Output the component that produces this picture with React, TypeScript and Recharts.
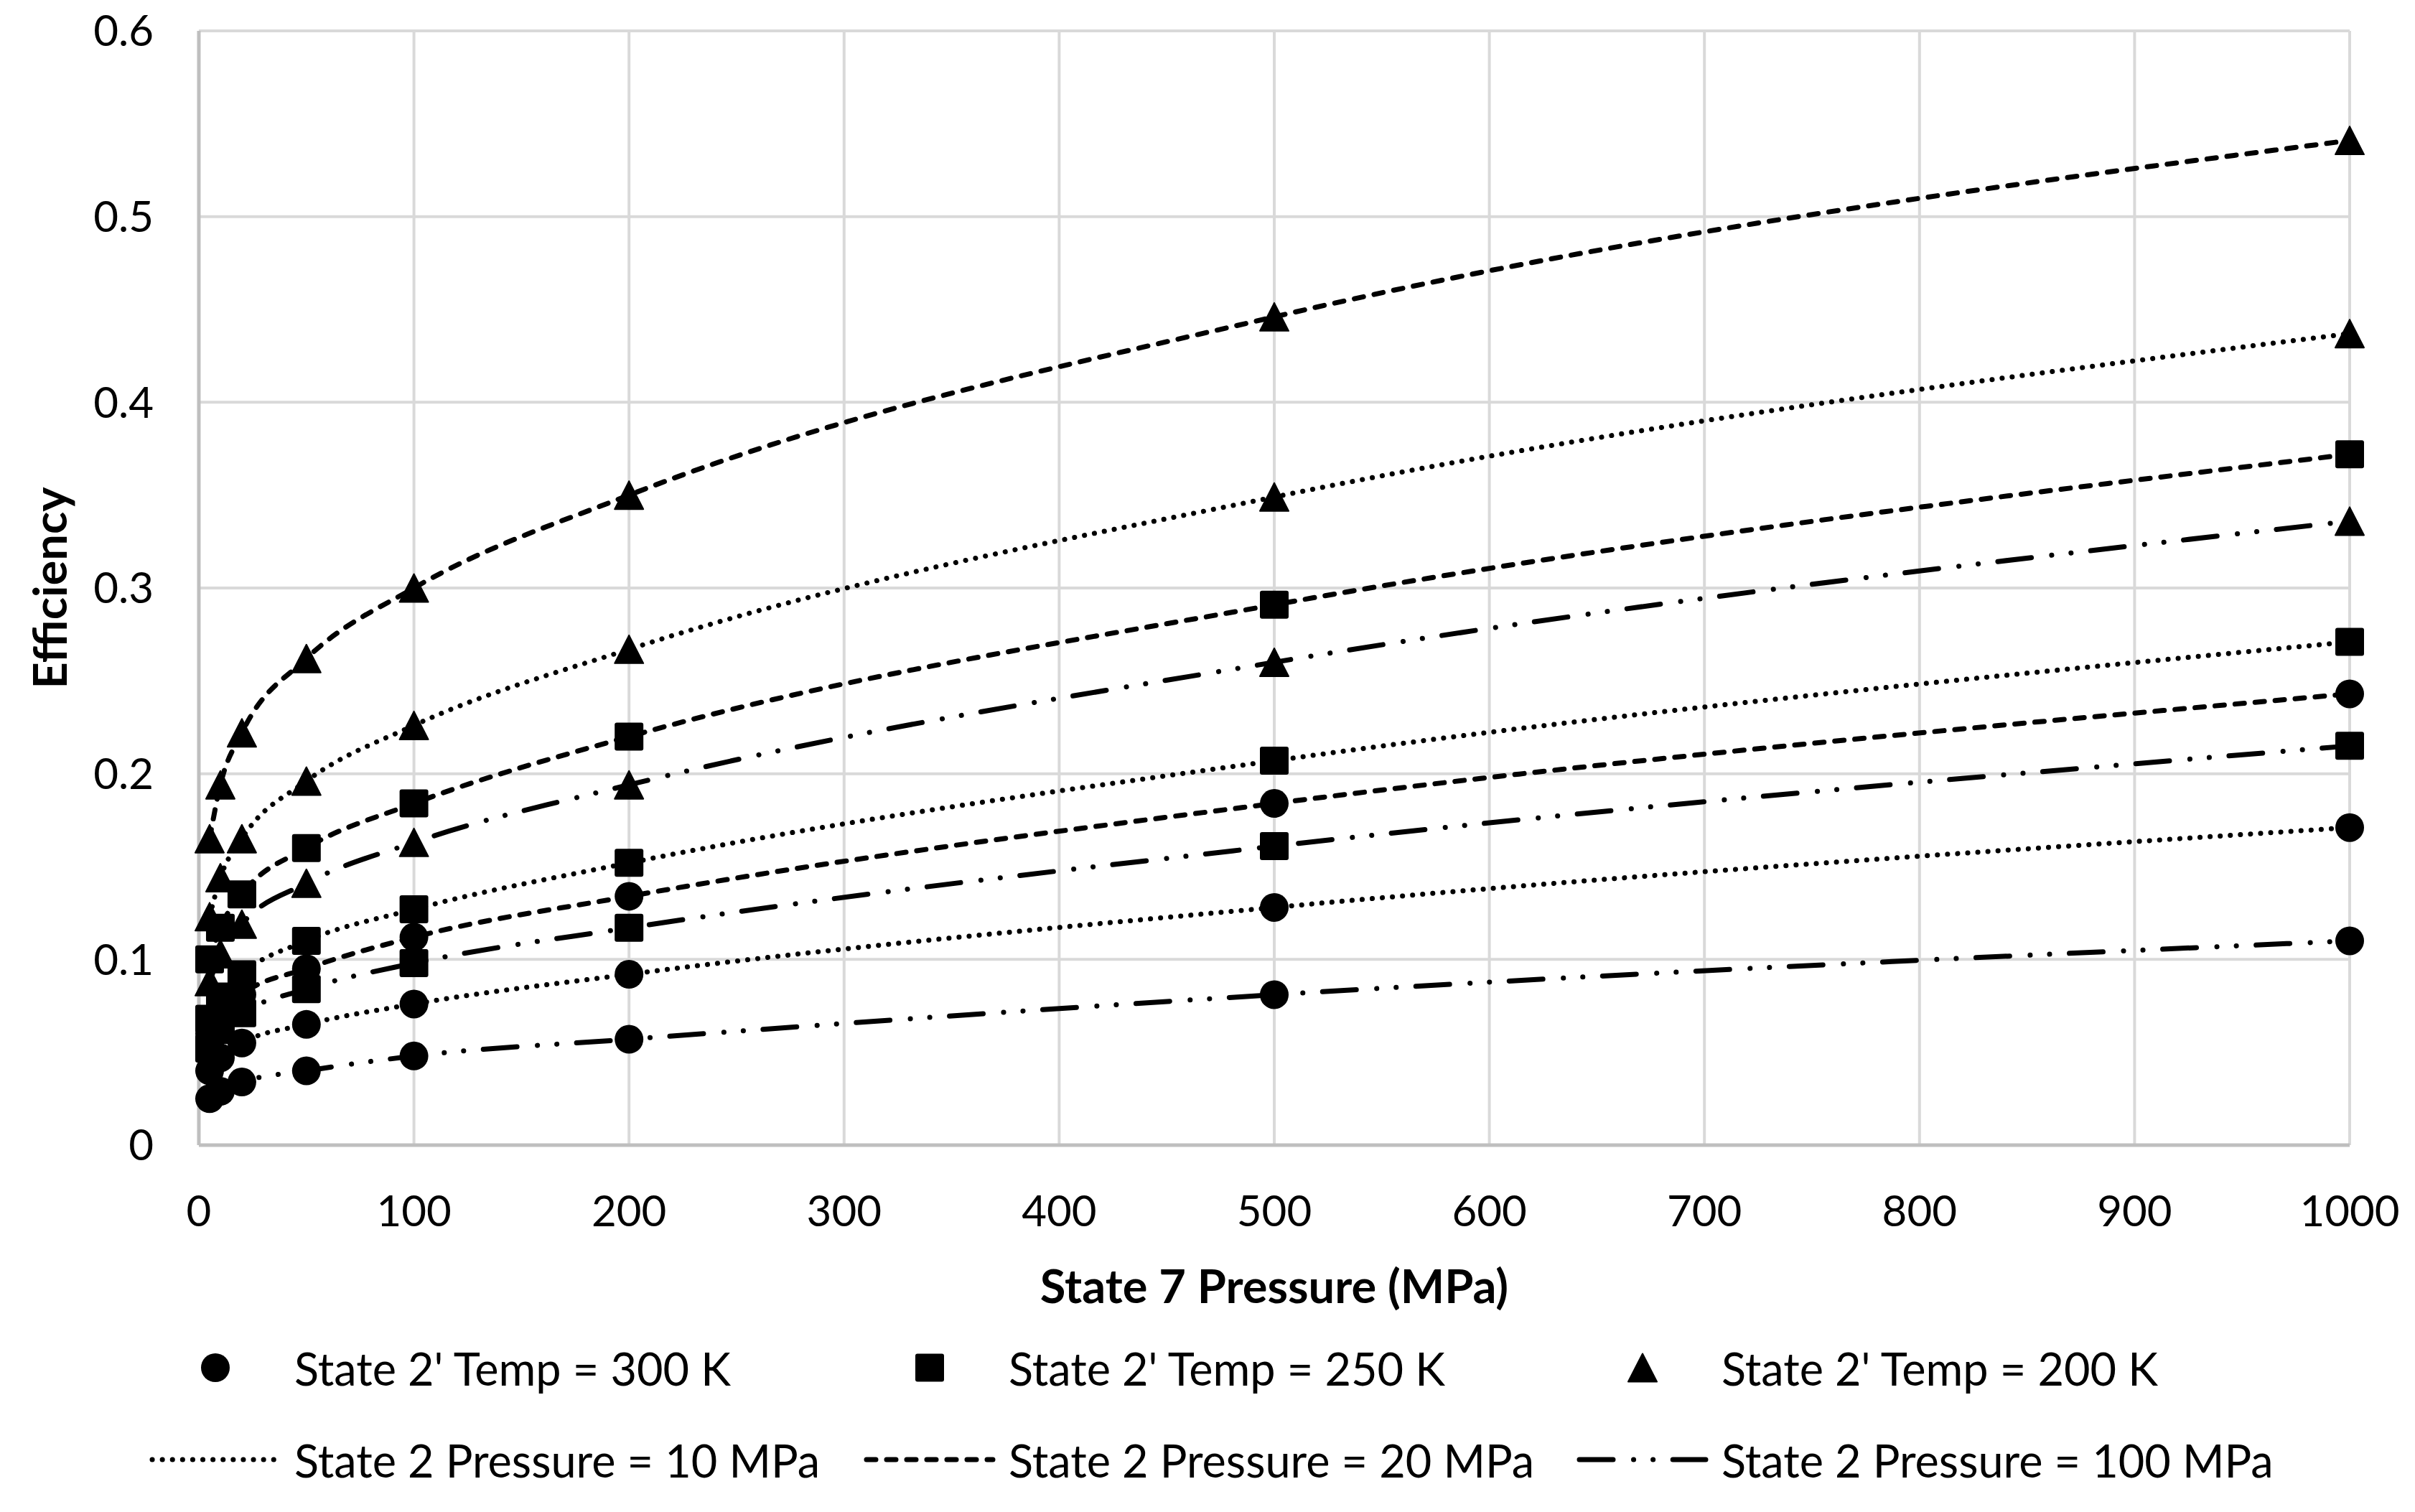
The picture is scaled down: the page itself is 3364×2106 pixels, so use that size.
import React from "react";
import { LineChart, Line, XAxis, YAxis, CartesianGrid, Legend, Label } from "recharts";

// State 7 pressure (MPa)
const pressures = [5, 10, 20, 50, 100, 200, 500, 1000];

// efficiency, State 2' temp / State 2 pressure
const t300p10 = [0.04, 0.047, 0.055, 0.065, 0.076, 0.092, 0.128, 0.171];
const t300p20 = [0.06, 0.07, 0.081, 0.095, 0.112, 0.134, 0.184, 0.243];
const t300p100 = [0.025, 0.029, 0.034, 0.04, 0.048, 0.057, 0.081, 0.11];
const t250p10 = [0.068, 0.08, 0.092, 0.11, 0.127, 0.152, 0.207, 0.271];
const t250p20 = [0.1, 0.117, 0.135, 0.16, 0.184, 0.22, 0.291, 0.372];
const t250p100 = [0.052, 0.062, 0.071, 0.084, 0.098, 0.117, 0.161, 0.215];
const t200p10 = [0.123, 0.144, 0.165, 0.196, 0.226, 0.267, 0.349, 0.437];
const t200p20 = [0.165, 0.194, 0.222, 0.262, 0.3, 0.35, 0.446, 0.541];
const t200p100 = [0.088, 0.103, 0.119, 0.141, 0.163, 0.194, 0.26, 0.336];

const xTicks = [0, 100, 200, 300, 400, 500, 600, 700, 800, 900, 1000];
const yTicks = [0, 0.1, 0.2, 0.3, 0.4, 0.5, 0.6];

const tempLabels = ["State 2' Temp = 300 K", "State 2' Temp = 250 K", "State 2' Temp = 200 K"];
const pressureLabels = ["State 2 Pressure = 10 MPa", "State 2 Pressure = 20 MPa", "State 2 Pressure = 100 MPa"];

const FONT = "Lato, 'Open Sans', sans-serif";
const TICK_SIZE = 60;
const LEGEND_SIZE = 63;
const TITLE_SIZE = 65;
const LINE_W = 7;

const DOTTED = "0.1 14";
const DASHED = "13 15";
const DASH_DOT_DOT = "47 28.5 0.1 27 0.1 27.5";

type Shape = "circle" | "square" | "triangle";

const shapes: Shape[] = ["circle", "square", "triangle"];
const dashes = [DOTTED, DASHED, DASH_DOT_DOT];

const series = [
  { key: "t300p10", values: t300p10, shape: "circle", dash: DOTTED },
  { key: "t300p20", values: t300p20, shape: "circle", dash: DASHED },
  { key: "t300p100", values: t300p100, shape: "circle", dash: DASH_DOT_DOT },
  { key: "t250p10", values: t250p10, shape: "square", dash: DOTTED },
  { key: "t250p20", values: t250p20, shape: "square", dash: DASHED },
  { key: "t250p100", values: t250p100, shape: "square", dash: DASH_DOT_DOT },
  { key: "t200p10", values: t200p10, shape: "triangle", dash: DOTTED },
  { key: "t200p20", values: t200p20, shape: "triangle", dash: DASHED },
  { key: "t200p100", values: t200p100, shape: "triangle", dash: DASH_DOT_DOT },
] as { key: string; values: number[]; shape: Shape; dash: string }[];

const data = pressures.map((p, i) => {
  const row: Record<string, number> = { p };
  series.forEach((s) => (row[s.key] = s.values[i]));
  return row;
});

function Marker({ shape, cx, cy }: { shape: Shape; cx: number; cy: number }) {
  if (cx == null || cy == null) return null;
  if (shape === "circle") return <circle cx={cx} cy={cy} r={20} fill="#000" />;
  if (shape === "square")
    return <rect x={cx - 20} y={cy - 19.5} width={40} height={39} rx={3} fill="#000" />;
  return (
    <path
      d={`M${cx},${cy - 19.5} L${cx + 20},${cy + 19.5} L${cx - 20},${cy + 19.5} Z`}
      fill="#000"
      stroke="#000"
      strokeWidth={2}
      strokeLinejoin="round"
    />
  );
}

const dotFor = (shape: Shape) => (props: any) =>
  <Marker key={`${shape}-${props.index}`} shape={shape} cx={props.cx} cy={props.cy} />;

function ChartLegend() {
  const cols = [410, 1405, 2398];
  const row1 = 50;
  const row2 = 178;
  const textStyle = { fontFamily: FONT, fontSize: LEGEND_SIZE, fill: "#000" };
  return (
    <svg width={3273} height={251} style={{ display: "block" }}>
      {tempLabels.map((t, i) => (
        <g key={t}>
          <Marker shape={shapes[i]} cx={cols[i] - 110} cy={row1} />
          <text x={cols[i]} y={row1} dominantBaseline="central" style={textStyle}>
            {t}
          </text>
        </g>
      ))}
      {pressureLabels.map((t, i) => (
        <g key={t}>
          <line
            x1={cols[i] - 198}
            x2={cols[i] - 22}
            y1={row2}
            y2={row2}
            stroke="#000"
            strokeWidth={LINE_W}
            strokeLinecap="round"
            strokeDasharray={dashes[i]}
          />
          <text x={cols[i]} y={row2} dominantBaseline="central" style={textStyle}>
            {t}
          </text>
        </g>
      ))}
    </svg>
  );
}

export default function App() {
  const tick = { fill: "#000", fontSize: TICK_SIZE, fontFamily: FONT };
  const titleStyle = { fontFamily: FONT, fontSize: TITLE_SIZE, fontWeight: 700, fill: "#000" };
  return (
    <div style={{ position: "absolute", left: 0, top: 0, width: 3364, height: 2106, background: "#fff" }}>
      <LineChart width={3364} height={2106} data={data} margin={{ top: 43, right: 91, left: 0, bottom: 0 }}>
        <CartesianGrid stroke="#d9d9d9" strokeWidth={4} />
        <XAxis
          dataKey="p"
          type="number"
          domain={[0, 1000]}
          ticks={xTicks}
          interval={0}
          height={260}
          tickSize={0}
          tickMargin={70}
          tickLine={false}
          tick={tick}
          axisLine={{ stroke: "#bfbfbf", strokeWidth: 5 }}
        >
          <Label value="State 7 Pressure (MPa)" position="insideBottom" offset={40} style={titleStyle} />
        </XAxis>
        <YAxis
          type="number"
          domain={[0, 0.6]}
          ticks={yTicks}
          interval={0}
          width={277}
          tickSize={0}
          tickMargin={63}
          tickLine={false}
          tick={tick}
          tickFormatter={(v) => (v === 0 ? "0" : Number(v).toFixed(1))}
          axisLine={{ stroke: "#bfbfbf", strokeWidth: 5 }}
        >
          <Label
            content={(props: any) => {
              const vb = props.viewBox || { x: 0, y: 43, height: 1552 };
              const x = vb.x + 93;
              const y = vb.y + vb.height / 2;
              return (
                <text x={x} y={y} transform={`rotate(-90, ${x}, ${y})`} textAnchor="middle" style={titleStyle}>
                  Efficiency
                </text>
              );
            }}
          />
        </YAxis>
        <Legend verticalAlign="bottom" align="left" height={251} content={() => <ChartLegend />} />
        {series.map((s) => (
          <Line
            key={s.key}
            dataKey={s.key}
            type="monotone"
            stroke="#000"
            strokeWidth={LINE_W}
            strokeLinecap="round"
            strokeDasharray={s.dash}
            dot={dotFor(s.shape)}
            activeDot={false}
            legendType="none"
            isAnimationActive={false}
          />
        ))}
      </LineChart>
    </div>
  );
}
